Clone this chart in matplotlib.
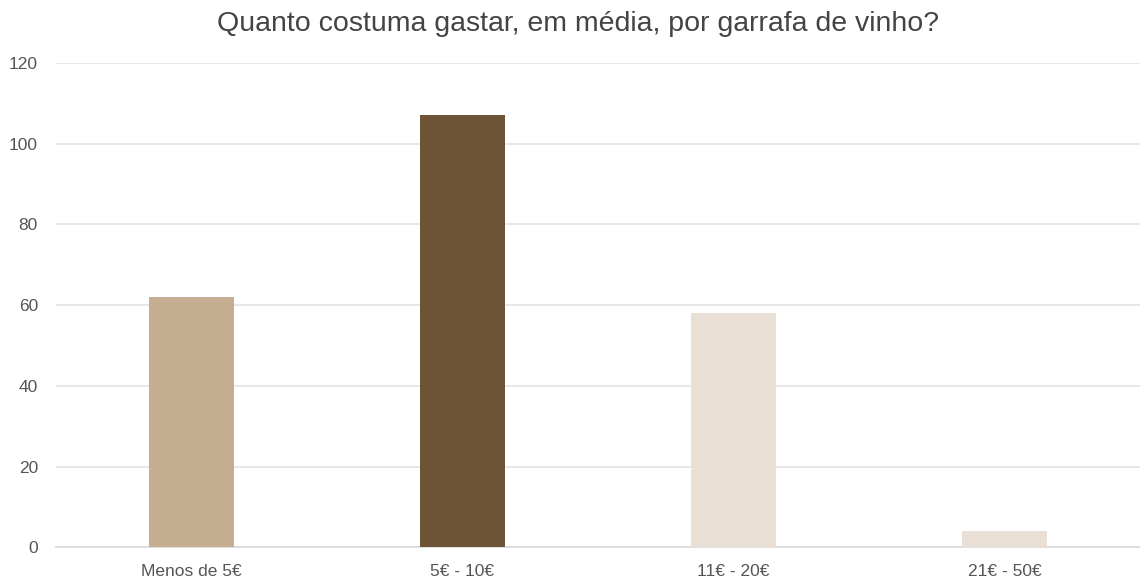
import matplotlib.pyplot as plt

# survey answers: average spend per bottle of wine
categories = ["Menos de 5€", "5€ - 10€", "11€ - 20€", "21€ - 50€"]
counts = [62, 107, 58, 4]
bar_colors = ["#c5ad91", "#6e5436", "#e9dfd4", "#e9dfd4"]
yticks = [0, 20, 40, 60, 80, 100, 120]

plt.rcParams["font.family"] = ["Liberation Sans", "DejaVu Sans"]

fig = plt.figure(figsize=(11.4, 5.81), dpi=100)
ax = fig.add_axes([0.0491, 0.058, 0.9509, 0.834])

x = range(len(categories))
ax.bar(x, counts, width=0.317, color=bar_colors, zorder=3)

ax.set_xlim(-0.5, len(categories) - 0.5)
ax.set_ylim(0, 120)
ax.set_yticks(yticks)
ax.set_xticks(list(x))
ax.set_xticklabels(categories)

ax.grid(axis="y", color="#e3e3e3", linewidth=1.2, zorder=0)
ax.set_axisbelow(True)
for side in ["top", "right", "left"]:
    ax.spines[side].set_visible(False)
ax.spines["bottom"].set_color("#d9d9d9")
ax.spines["bottom"].set_linewidth(1.2)

ax.tick_params(axis="both", length=0, labelsize=12.5, labelcolor="#555555")
ax.tick_params(axis="y", pad=13)
ax.tick_params(axis="x", pad=12)

fig.text(0.507, 0.958, "Quanto costuma gastar, em média, por garrafa de vinho?",
         ha="center", va="center", fontsize=20.5, color="#444444")

fig.savefig("out.png", dpi=100)
